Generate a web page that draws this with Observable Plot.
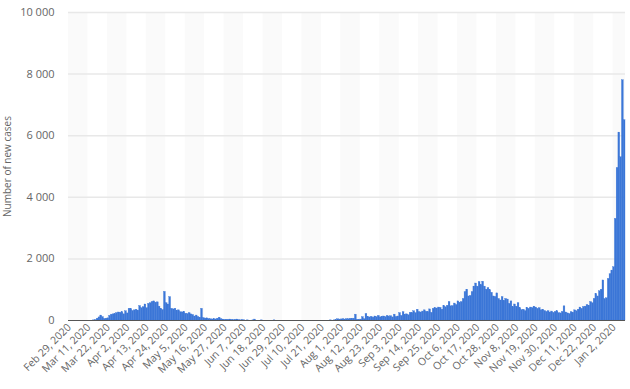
<!DOCTYPE html>
<html><head><meta charset="utf-8">
<script src="https://cdn.jsdelivr.net/npm/d3@7"></script>
<script src="https://cdn.jsdelivr.net/npm/@observablehq/plot@0.6"></script>
<style>html,body{margin:0;padding:0;background:#fff;overflow:hidden;}</style>
</head><body><div id="chart"></div>
<script>
const tickLabels = ["Feb 29, 2020","Mar 11, 2020","Mar 22, 2020","Apr 2, 2020","Apr 13, 2020","Apr 24, 2020","May 5, 2020","May 16, 2020","May 27, 2020","Jun 7, 2020","Jun 18, 2020","Jun 29, 2020","Jul 10, 2020","Jul 21, 2020","Aug 1, 2020","Aug 12, 2020","Aug 23, 2020","Sep 3, 2020","Sep 14, 2020","Sep 25, 2020","Oct 6, 2020","Oct 17, 2020","Oct 28, 2020","Nov 8, 2020","Nov 19, 2020","Nov 30, 2020","Dec 11, 2020","Dec 22, 2020","Jan 2, 2020"];
const yTicks = [0, 2000, 4000, 6000, 8000, 10000];
const newCases = [
0,0,0,0,0,0,0,0,0,0,
0,0,0,0,5,10,60,100,160,110,
50,60,70,150,190,200,210,240,260,250,
270,200,300,230,380,370,310,330,350,320,
470,400,430,520,400,540,560,600,620,580,
590,450,380,340,930,560,520,760,380,360,
380,320,330,270,260,280,220,210,240,200,
180,130,160,110,90,380,80,60,70,50,
40,30,40,35,60,90,40,30,20,25,
15,30,20,10,15,30,10,5,10,5,
0,5,0,0,5,30,0,0,0,5,
0,0,0,0,0,0,5,0,0,0,
0,0,0,0,0,0,0,0,0,0,
0,0,0,0,0,0,0,0,0,0,
0,0,0,0,0,0,0,0,5,0,
5,10,40,30,35,40,30,45,40,50,
45,60,190,20,15,30,110,40,210,110,
100,120,90,130,110,150,100,120,130,110,
150,120,140,100,190,110,130,240,150,270,
190,200,170,250,240,300,240,350,270,260,
290,330,280,270,360,250,380,400,390,420,
410,350,470,430,480,600,460,470,550,500,
620,580,600,700,920,1000,780,800,920,1100,
1200,1100,1250,1150,1260,1100,1000,1050,980,900,
780,760,880,700,650,760,640,700,680,540,
620,430,520,450,560,400,340,350,300,410,
380,420,400,450,420,380,400,330,350,310,
280,300,260,290,250,280,300,240,230,280,
460,260,230,210,270,250,330,300,350,420,
380,440,450,500,480,600,560,700,860,780,
950,1000,1300,700,720,1350,1500,1620,1730,3300,
4950,6100,5300,7800,6500
];
const tickEvery = 11;
const nDays = newCases.length;
const data = newCases.map((v, i) => ({day: i, cases: v}));
const bandStarts = d3.range(0, nDays, tickEvery * 2);
const tickDays = tickLabels.map((_, k) => k * tickEvery + 0.5);
const fmt = v => d3.format(",")(v).replace(/,/g, " ");
const blue = "#3b76d7";

const chart = Plot.plot({
  width: 630, height: 389,
  marginLeft: 68, marginRight: 5, marginTop: 12, marginBottom: 69,
  style: {fontFamily: "'Open Sans', sans-serif", color: "#666", background: "#fff", overflow: "visible"},
  x: {domain: [0, nDays], axis: null},
  y: {domain: [0, 10000], axis: null},
  marks: [
    Plot.rect(bandStarts, {x1: d => d, x2: d => Math.min(d + tickEvery, nDays), y1: 0, y2: 10000, fill: "#fafafa"}),
    Plot.ruleY(yTicks.slice(1), {stroke: "#e8e8e8", strokeWidth: 1.5}),
    Plot.rectY(data, {x1: "day", x2: d => d.day + 1, y: "cases", fill: blue, stroke: blue, strokeWidth: 0.35}),
    Plot.ruleY([0], {stroke: "#555", strokeWidth: 1}),
    Plot.axisY({ticks: yTicks, tickFormat: fmt, tickSize: 0, tickPadding: 14, fontSize: 11, label: "Number of new cases", labelAnchor: "center"}),
    Plot.axisX({ticks: tickDays, tickFormat: (d, i) => tickLabels[Math.round((d - 0.5) / tickEvery)], tickRotate: -45, tickSize: 0, tickPadding: 5, fontSize: 10.5, label: null})
  ]
});
document.getElementById("chart").appendChild(chart);
const lab = chart.querySelector('[aria-label="y-axis label"] text') || chart.querySelector('[aria-label="y-axis label"]');
if (lab) { lab.textContent = "Number of new cases"; lab.setAttribute("font-size", "10"); lab.style.fontSize = "10px"; }
</script>
</body></html>
